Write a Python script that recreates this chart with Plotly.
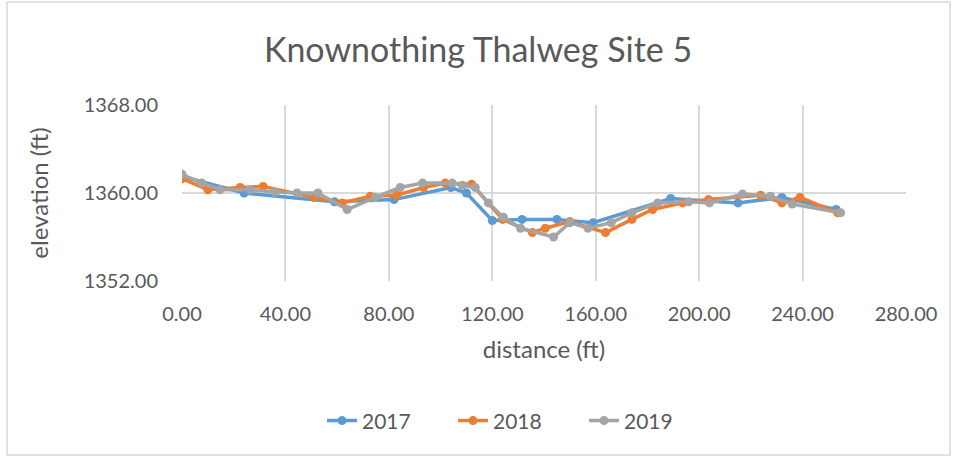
import plotly.graph_objects as go

x2017 = [0, 24, 59, 82, 104, 110, 120, 131.5, 145, 159, 189, 204, 215, 232, 253]
y2017 = [1361.5, 1360.0, 1359.2, 1359.4, 1360.5, 1360.0, 1357.5, 1357.6, 1357.6, 1357.3, 1359.5, 1359.3, 1359.1, 1359.6, 1358.5]

x2018 = [0, 10, 22.5, 31.4, 51, 62, 72.8, 83, 93.4, 101.8, 112, 124, 135.5, 140.5, 150, 163.8, 174, 182, 193.6, 203.6, 223.8, 232, 239, 253.6]
y2018 = [1361.3, 1360.3, 1360.5, 1360.6, 1359.6, 1359.1, 1359.7, 1359.8, 1360.5, 1360.9, 1360.8, 1357.6, 1356.4, 1356.8, 1357.4, 1356.4, 1357.6, 1358.5, 1359.1, 1359.4, 1359.8, 1359.1, 1359.6, 1358.2]

x2019 = [0, 7.7, 14.7, 26.3, 36, 44.5, 52.6, 63.9, 74.7, 84.4, 93, 104.5, 108.4, 113.4, 118.5, 124.3, 130.9, 143.7, 150, 157, 166, 174, 184, 196, 204, 216.8, 227.6, 236, 254.7]
y2019 = [1361.7, 1360.9, 1360.3, 1360.3, 1360.1, 1360.0, 1360.0, 1358.5, 1359.6, 1360.5, 1360.9, 1360.9, 1360.7, 1360.5, 1359.1, 1357.8, 1356.8, 1356.0, 1357.3, 1356.8, 1357.3, 1358.2, 1359.1, 1359.2, 1359.1, 1359.9, 1359.7, 1359.0, 1358.2]

series = [("2017", x2017, y2017, "#5B9BD5"),
          ("2018", x2018, y2018, "#ED7D31"),
          ("2019", x2019, y2019, "#A5A5A5")]

FONT = "Lato, Carlito, Calibri, sans-serif"
fig = go.Figure()
for name, xs, ys, col in series:
    fig.add_trace(go.Scatter(x=xs, y=ys, name=name, mode="lines+markers",
                             line=dict(color=col, width=3.5),
                             marker=dict(color=col, size=9)))

fig.update_layout(
    width=956, height=460,
    margin=dict(l=182, r=50, t=105, b=179, autoexpand=False),
    paper_bgcolor="white", plot_bgcolor="white",
    font=dict(family=FONT, color="#595959", size=20),
    title=dict(text="Knownothing Thalweg Site 5", x=0.5, xanchor="center",
               y=1 - 50 / 460, yanchor="middle",
               font=dict(size=34, color="#595959", family=FONT)),
    showlegend=True,
    legend=dict(orientation="h", x=(322 - 182) / 724, xanchor="left", y=-0.795, yanchor="middle",
                font=dict(size=21, color="#595959"), entrywidth=86, entrywidthmode="pixels"),
    xaxis=dict(range=[0, 280], dtick=40, tick0=0, tickformat=".2f",
               showgrid=True, gridcolor="#D9D9D9", gridwidth=1.5,
               zeroline=False, showline=False, ticks="",
               ticklabelstandoff=19, automargin=False,
               tickfont=dict(size=20),
               title=dict(text="distance (ft)", standoff=17, font=dict(size=24))),
    yaxis=dict(range=[1352, 1368], dtick=8, tick0=1352, tickformat=".2f",
               showgrid=True, gridcolor="#D9D9D9", gridwidth=1.5,
               zeroline=False, showline=False, ticks="",
               ticklabelstandoff=23, automargin=False,
               tickfont=dict(size=20),
               title=dict(text="elevation (ft)", standoff=28, font=dict(size=24))),
    shapes=[dict(type="rect", xref="paper", yref="paper",
                 x0=(7 - 182) / 724, x1=(950 - 182) / 724,
                 y0=(281 - 455) / 176, y1=(281 - 2) / 176,
                 line=dict(color="#D9D9D9", width=1.5), fillcolor="rgba(0,0,0,0)", layer="below")],
)

fig.write_html("out.html", config={"displayModeBar": False},
               post_script="document.body.style.margin='0';document.body.style.overflow='hidden';")
